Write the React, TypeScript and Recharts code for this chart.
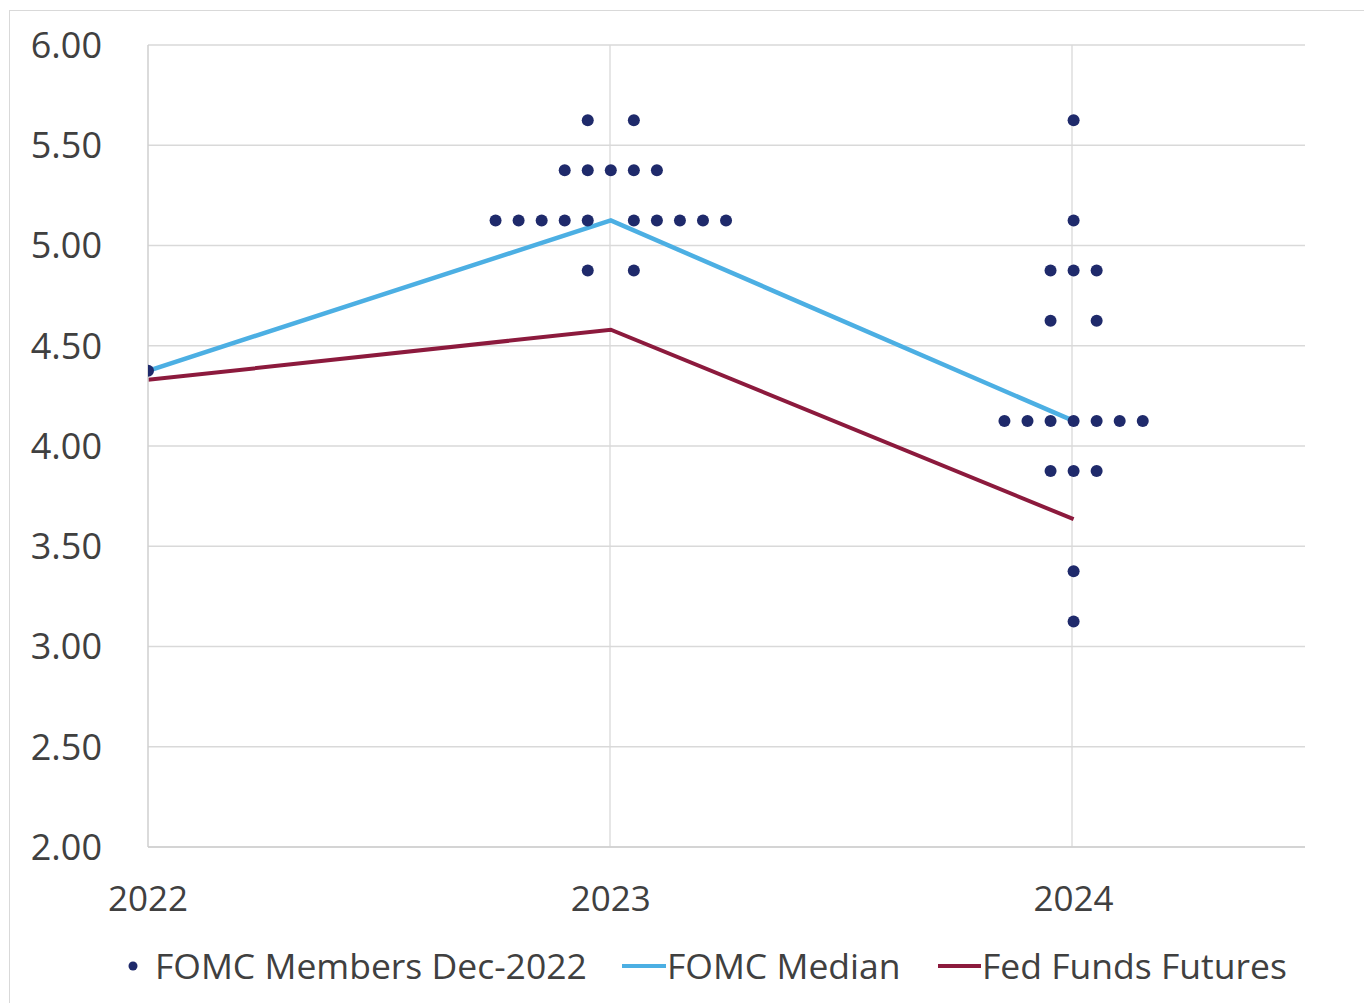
import { ComposedChart, Line, Scatter, XAxis, YAxis, CartesianGrid } from 'recharts';

// Rate path by year
const years = [2022, 2023, 2024];
const medianRates = [4.375, 5.125, 4.125];
const futuresRates = [4.33, 4.58, 3.635];

// FOMC dot plot: each row is one rate level, slots are the dot places left/right of the year
const dotRows2022 = [{ rate: 4.375, slots: [0] }];
const dotRows2023 = [
  { rate: 5.625, slots: [-1, 1] },
  { rate: 5.375, slots: [-2, -1, 0, 1, 2] },
  { rate: 5.125, slots: [-5, -4, -3, -2, -1, 1, 2, 3, 4, 5] },
  { rate: 4.875, slots: [-1, 1] },
];
const dotRows2024 = [
  { rate: 5.625, slots: [0] },
  { rate: 5.125, slots: [0] },
  { rate: 4.875, slots: [-1, 0, 1] },
  { rate: 4.625, slots: [-1, 1] },
  { rate: 4.125, slots: [-3, -2, -1, 0, 1, 2, 3] },
  { rate: 3.875, slots: [-1, 0, 1] },
  { rate: 3.375, slots: [0] },
  { rate: 3.125, slots: [0] },
];

const yTicks = [2, 2.5, 3, 3.5, 4, 4.5, 5, 5.5, 6];
const legendLabels = ['FOMC Members Dec-2022', 'FOMC Median', 'Fed Funds Futures'];

const DOT_STEP = 0.0498;
const NAVY = '#1f2a6b';
const BLUE = '#4cafe3';
const WINE = '#8c1a3d';
const TEXT = '#404040';
const FONT = '"Open Sans", sans-serif';

const toDots = (year: number, rows: { rate: number; slots: number[] }[]) =>
  rows.flatMap((r) => r.slots.map((s) => ({ year: year + s * DOT_STEP, rate: r.rate })));

const dots = [
  ...toDots(years[0], dotRows2022),
  ...toDots(years[1], dotRows2023),
  ...toDots(years[2], dotRows2024),
];
const medianData = years.map((year, i) => ({ year, rate: medianRates[i] }));
const futuresData = years.map((year, i) => ({ year, rate: futuresRates[i] }));

const DotShape = (props: any) => <circle cx={props.cx} cy={props.cy} r={6} fill={NAVY} />;

const legendText = {
  position: 'absolute' as const,
  top: 943,
  fontSize: 35.5,
  lineHeight: '44px',
  color: TEXT,
  whiteSpace: 'nowrap' as const,
};

export default function App() {
  return (
    <div
      style={{
        position: 'absolute',
        left: 0,
        top: 0,
        width: 1364,
        height: 1003,
        background: '#fff',
        fontFamily: FONT,
        overflow: 'hidden',
      }}
    >
      <div
        style={{
          position: 'absolute',
          left: 9,
          top: 10,
          width: 1400,
          height: 1100,
          borderLeft: '1px solid #d9d9d9',
          borderTop: '1px solid #d9d9d9',
        }}
      />
      <div style={{ position: 'absolute', left: 0, top: 0 }}>
        <ComposedChart width={1364} height={1003} margin={{ top: 45, right: 59, left: 0, bottom: 96 }}>
          <CartesianGrid stroke="#d9d9d9" strokeWidth={1.3} verticalPoints={[610, 1072]} />
          <XAxis
            type="number"
            dataKey="year"
            domain={[2022, 2024.5]}
            ticks={years}
            allowDataOverflow
            height={60}
            tickLine={false}
            tickMargin={33}
            stroke="#cfcfcf"
            strokeWidth={1.5}
            tick={{ fill: TEXT, fontSize: 35, fontFamily: FONT }}
          />
          <YAxis
            type="number"
            dataKey="rate"
            domain={[2, 6]}
            ticks={yTicks}
            width={148}
            tickLine={false}
            tickMargin={40}
            stroke="#cfcfcf"
            strokeWidth={1.5}
            tickFormatter={(v: number) => v.toFixed(2)}
            tick={{ fill: TEXT, fontSize: 36, fontFamily: FONT }}
          />
          <Line
            data={medianData}
            dataKey="rate"
            stroke={BLUE}
            strokeWidth={4.5}
            dot={false}
            isAnimationActive={false}
          />
          <Line
            data={futuresData}
            dataKey="rate"
            stroke={WINE}
            strokeWidth={4}
            dot={false}
            isAnimationActive={false}
          />
          <Scatter data={dots} dataKey="rate" shape={DotShape} isAnimationActive={false} />
        </ComposedChart>
      </div>
      <svg style={{ position: 'absolute', left: 0, top: 0 }} width={1364} height={1003} pointerEvents="none">
        <circle cx={133} cy={966} r={4.5} fill={NAVY} />
        <line x1={622} x2={666} y1={966} y2={966} stroke={BLUE} strokeWidth={4} />
        <line x1={938} x2={981} y1={966} y2={966} stroke={WINE} strokeWidth={4} />
      </svg>
      <span style={{ ...legendText, left: 155 }}>{legendLabels[0]}</span>
      <span style={{ ...legendText, left: 667 }}>{legendLabels[1]}</span>
      <span style={{ ...legendText, left: 982 }}>{legendLabels[2]}</span>
    </div>
  );
}
